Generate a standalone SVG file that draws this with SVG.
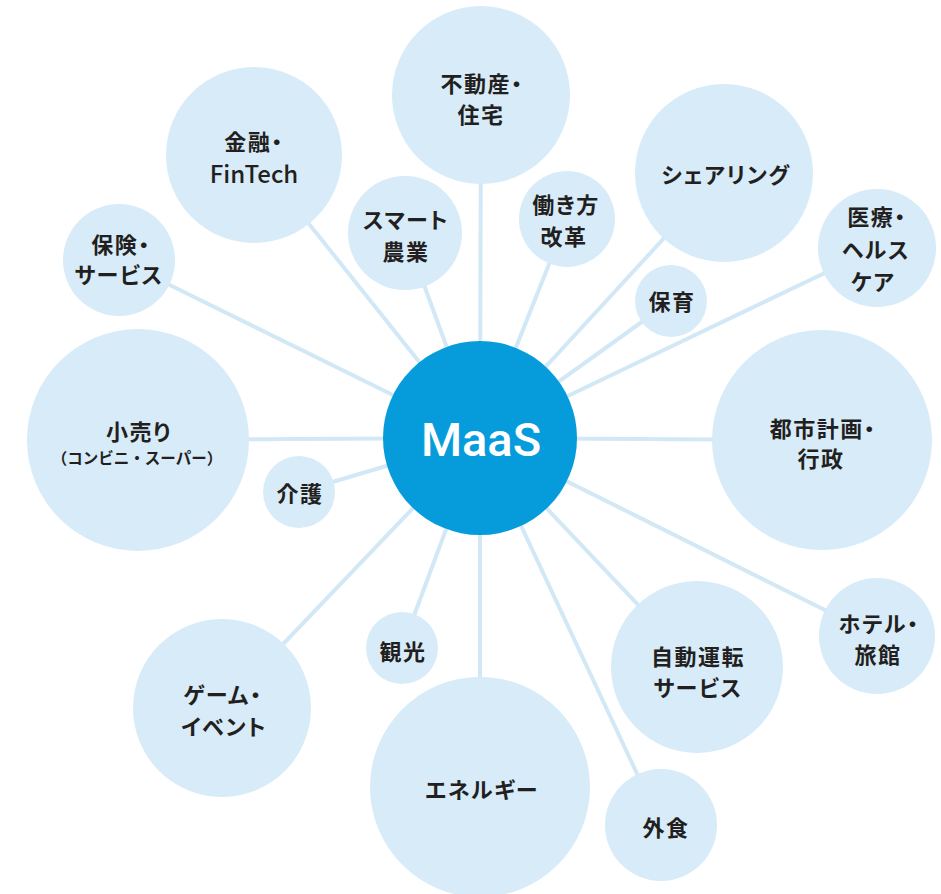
<svg xmlns="http://www.w3.org/2000/svg" width="941" height="894" viewBox="0 0 941 894">
<style>
.bg{fill:#ffffff}
.node circle{fill:#d7ebf8}
.edges line{stroke:#d3e8f6;stroke-width:4}
.lbl{font-family:"Noto Sans CJK JP","Noto Sans",sans-serif;font-weight:700;font-size:22px;fill:#231f20;text-anchor:middle;dominant-baseline:central;letter-spacing:1.5px;font-feature-settings:"palt" 1}
.sm{font-size:15.5px;letter-spacing:0;font-feature-settings:normal}
.lat{font-weight:500;font-size:24px;letter-spacing:0}
.hub circle{fill:#069cdc}
.hubt{font-family:Roboto,"Liberation Sans",sans-serif;font-weight:500;font-size:47px;fill:#ffffff;text-anchor:middle}
</style>
<rect class="bg" width="941" height="894"/>
<g id="connectors" class="edges">
<line x1="480" y1="438" x2="481" y2="95"/>
<line x1="480" y1="438" x2="254" y2="155"/>
<line x1="480" y1="438" x2="724" y2="173"/>
<line x1="480" y1="438" x2="405" y2="233"/>
<line x1="480" y1="438" x2="567" y2="219"/>
<line x1="480" y1="438" x2="119" y2="260"/>
<line x1="480" y1="438" x2="877" y2="248"/>
<line x1="480" y1="438" x2="671" y2="301"/>
<line x1="480" y1="438" x2="138" y2="440"/>
<line x1="480" y1="438" x2="299" y2="492"/>
<line x1="480" y1="438" x2="822" y2="440"/>
<line x1="480" y1="438" x2="877" y2="636"/>
<line x1="480" y1="438" x2="697" y2="667"/>
<line x1="480" y1="438" x2="402" y2="648"/>
<line x1="480" y1="438" x2="222" y2="708"/>
<line x1="480" y1="438" x2="480" y2="787"/>
<line x1="480" y1="438" x2="661" y2="825"/>
</g>
<g id="n-fudosan" class="node"><circle cx="481" cy="95" r="89"/><text class="lbl" x="482" y="82">不動産・</text><text class="lbl" x="481" y="113">住宅</text></g>
<g id="n-kinyu" class="node"><circle cx="254" cy="155" r="88"/><text class="lbl" x="254" y="140">金融・</text><text class="lbl lat" x="254" y="172">FinTech</text></g>
<g id="n-sharing" class="node"><circle cx="724" cy="173" r="89"/><text class="lbl" x="726" y="173">シェアリング</text></g>
<g id="n-smart" class="node"><circle cx="405" cy="233" r="57"/><text class="lbl" x="406" y="218">スマート</text><text class="lbl" x="406" y="250">農業</text></g>
<g id="n-hataraki" class="node"><circle cx="567" cy="219" r="48"/><text class="lbl" x="566" y="203">働き方</text><text class="lbl" x="564" y="235">改革</text></g>
<g id="n-hoken" class="node"><circle cx="119" cy="260" r="56"/><text class="lbl" x="121" y="243">保険・</text><text class="lbl" x="119" y="273">サービス</text></g>
<g id="n-iryo" class="node"><circle cx="877" cy="248" r="59"/><text class="lbl" x="877" y="215">医療・</text><text class="lbl" x="876" y="248">ヘルス</text><text class="lbl" x="873" y="280">ケア</text></g>
<g id="n-hoiku" class="node"><circle cx="671" cy="301" r="36"/><text class="lbl" x="672" y="300">保育</text></g>
<g id="n-kouri" class="node"><circle cx="138" cy="440" r="111"/><text class="lbl" x="139" y="430">小売り</text><text class="lbl sm" x="137" y="457">（コンビニ・スーパー）</text></g>
<g id="n-kaigo" class="node"><circle cx="299" cy="492" r="36"/><text class="lbl" x="300" y="492">介護</text></g>
<g id="n-toshi" class="node"><circle cx="822" cy="440" r="110"/><text class="lbl" x="823" y="427">都市計画・</text><text class="lbl" x="821" y="457">行政</text></g>
<g id="n-hotel" class="node"><circle cx="877" cy="636" r="58"/><text class="lbl" x="879" y="622">ホテル・</text><text class="lbl" x="878" y="653">旅館</text></g>
<g id="n-jido" class="node"><circle cx="697" cy="667" r="86"/><text class="lbl" x="698" y="655">自動運転</text><text class="lbl" x="698" y="686">サービス</text></g>
<g id="n-kanko" class="node"><circle cx="402" cy="648" r="36"/><text class="lbl" x="403" y="650">観光</text></g>
<g id="n-game" class="node"><circle cx="222" cy="708" r="89"/><text class="lbl" x="223" y="693">ゲーム・</text><text class="lbl" x="224" y="725">イベント</text></g>
<g id="n-energy" class="node"><circle cx="480" cy="787" r="110"/><text class="lbl" x="482" y="788">エネルギー</text></g>
<g id="n-gaishoku" class="node"><circle cx="661" cy="825" r="56"/><text class="lbl" x="666" y="826">外食</text></g>
<g id="n-maas" class="hub"><circle cx="480" cy="438" r="97"/><text class="hubt" x="481" y="456">MaaS</text></g>
</svg>
